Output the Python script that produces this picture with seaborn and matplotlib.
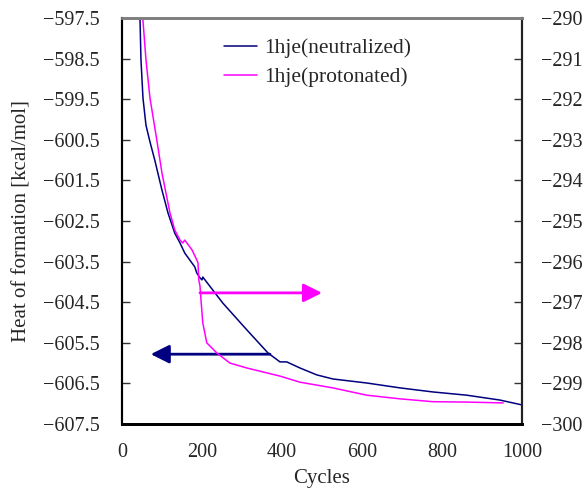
import numpy as np
import matplotlib.pyplot as plt
import seaborn as sns

# neutralized -> left axis
cyc_neu = [45, 47.5, 52.5, 60, 70, 82, 100, 115, 132, 145, 157, 182, 187, 195,
           200, 202, 252, 312, 365, 395, 412, 445, 487, 527, 612, 695, 777,
           862, 945, 1000]
hof_neu = [-597.5, -598.53, -599.47, -600.14, -600.55, -601.0, -601.74, -602.30,
           -602.8, -603.04, -603.29, -603.63, -603.78, -603.9, -603.95, -603.88,
           -604.52, -605.18, -605.75, -605.97, -605.97, -606.12, -606.29,
           -606.39, -606.49, -606.61, -606.71, -606.79, -606.91, -607.03]

# protonated -> right axis
cyc_pro = [52, 60, 70, 87, 100, 112, 120, 132, 145, 152, 157, 175, 187, 190,
           192, 195, 197, 202, 212, 237, 270, 312, 395, 445, 527, 612,
           695, 777, 862, 953]
hof_pro = [-290.0, -291.03, -291.97, -293.0, -293.82, -294.41, -294.80, -295.22,
           -295.47, -295.54, -295.47, -295.71, -295.96, -296.03, -296.45,
           -296.6, -296.87, -297.51, -298.0, -298.25, -298.5, -298.62,
           -298.82, -298.97, -299.11, -299.29, -299.38, -299.45,
           -299.46, -299.48]

left_ticks = np.arange(-607.5, -597.4, 1.0)
right_ticks = np.arange(-300, -289, 1)

sns.set_style('white')
plt.rcParams['font.family'] = ['Liberation Serif', 'DejaVu Serif']

fig = plt.figure(figsize=(5.85, 4.95), dpi=100)
ax = fig.add_axes([0.2085, 0.1434, 0.6838, 0.8202])
ax2 = ax.twinx()

sns.lineplot(x=cyc_neu, y=hof_neu, ax=ax, color='#000080', lw=1.1,
             label='1hje(neutralized)', legend=False)
sns.lineplot(x=cyc_pro, y=hof_pro, ax=ax2, color='#FF00FF', lw=1.1,
             label='1hje(protonated)', legend=False)

ax.set_xlim(0, 1000)
ax.set_ylim(-607.5, -597.5)
ax2.set_ylim(-300, -290)
ax.set_xticks([0, 200, 400, 600, 800, 1000])
ax.set_yticks(left_ticks)
ax.set_yticklabels([f'{v:.1f}'.replace('-', '\u2212') for v in left_ticks])
ax2.set_yticks(right_ticks)
ax2.set_yticklabels([f'{v:d}'.replace('-', '\u2212') for v in right_ticks])

ax.tick_params(axis='both', direction='in', length=6, width=1, labelsize=14.5,
               color='#333333')
ax.tick_params(axis='x', pad=14)
ax.tick_params(axis='y', pad=16)
ax2.tick_params(axis='y', direction='in', length=6, width=1, labelsize=14.5,
                pad=14, color='#333333')

for a in (ax, ax2):
    a.spines['top'].set_color('#808080')
    a.spines['top'].set_linewidth(2)
    a.spines['bottom'].set_color('black')
    a.spines['bottom'].set_linewidth(2)
    a.spines['left'].set_color('black')
    a.spines['left'].set_linewidth(1.5)
    a.spines['right'].set_color('#222222')
    a.spines['right'].set_linewidth(1.5)

ax.set_xlabel('Cycles', fontsize=15, labelpad=5)
ax.set_ylabel('Heat of formation [kcal/mol]', fontsize=15, labelpad=8)

# arrows pointing to the axis each curve belongs to
ax2.annotate('', xy=(500, -296.77), xytext=(195, -296.77),
             arrowprops=dict(arrowstyle='-|>', color='#FF00FF', lw=2,
                             mutation_scale=28, shrinkA=0, shrinkB=0))
ax.annotate('', xy=(72, -605.78), xytext=(370, -605.78),
            arrowprops=dict(arrowstyle='-|>', color='#000080', lw=2,
                            mutation_scale=28, shrinkA=0, shrinkB=0))

h1, l1 = ax.get_legend_handles_labels()
h2, l2 = ax2.get_legend_handles_labels()
ax2.legend(h1 + h2, l1 + l2, loc='upper left', bbox_to_anchor=(0.358, 0.953),
           bbox_transform=fig.transFigure, frameon=False, fontsize=15.5,
           handlelength=1.5, handletextpad=0.35, labelspacing=0.4,
           borderpad=0.2)

fig.savefig('out.png', dpi=100)
